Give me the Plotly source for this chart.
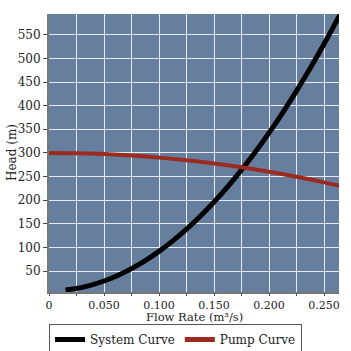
import plotly.graph_objects as go

# Flow rate (m^3/s) and head (m)
sys_q = [0.015, 0.025, 0.0375, 0.05, 0.0625, 0.075, 0.0875, 0.1, 0.1125, 0.125, 0.1375,
         0.15, 0.1625, 0.175, 0.1875, 0.2, 0.2125, 0.225, 0.2375, 0.25, 0.2625, 0.275]
sys_h = [9.9, 13.2, 19.8, 28.9, 40.7, 55.0, 72.0, 91.6, 113.8, 138.6, 166.1,
         196.1, 228.8, 264.0, 301.9, 342.4, 385.5, 431.2, 479.5, 530.5, 584.0, 640.0]

pump_q = [0.0, 0.025, 0.05, 0.075, 0.1, 0.125, 0.15, 0.175, 0.2, 0.225, 0.25, 0.275]
pump_h = [300.0, 299.4, 297.5, 294.4, 290.0, 284.4, 277.6, 269.5, 260.1, 249.5, 237.7, 224.6]

x_ticks = [0, 0.05, 0.1, 0.15, 0.2, 0.25]
x_labels = ["0", "0.050", "0.100", "0.150", "0.200", "0.250"]
y_ticks = [50, 100, 150, 200, 250, 300, 350, 400, 450, 500, 550]

font = "DejaVu Serif"

fig = go.Figure()
fig.add_trace(go.Scatter(x=sys_q, y=sys_h, mode="lines", name="System Curve",
                         line=dict(color="#000000", width=5, shape="spline")))
fig.add_trace(go.Scatter(x=pump_q, y=pump_h, mode="lines", name="Pump Curve",
                         line=dict(color="#9b2a1f", width=4, shape="spline")))

fig.update_layout(
    width=351, height=351,
    margin=dict(l=49, r=12, t=14, b=59, autoexpand=False),
    paper_bgcolor="#ffffff",
    plot_bgcolor="#677f9f",
    font=dict(family=font, size=12, color="#222222"),
    showlegend=True,
    legend=dict(orientation="h", xref="container", yref="container",
                x=0.5, xanchor="center", y=1 - 324 / 351, yanchor="top",
                bordercolor="#555555", borderwidth=1, bgcolor="#ffffff",
                font=dict(family=font, size=12, color="#222222"),
                itemwidth=30, tracegroupgap=0, itemsizing="constant"),
    xaxis=dict(
        range=[0, 0.2636], tickvals=x_ticks, ticktext=x_labels,
        showgrid=True, gridcolor="#e8ecf2", gridwidth=1,
        minor=dict(dtick=0.025, tick0=0, showgrid=True, gridcolor="#e8ecf2",
                   ticks="outside", ticklen=2, tickcolor="#444444"),
        ticks="outside", ticklen=2, tickcolor="#444444",
        showline=True, linecolor="#777777", linewidth=2,
        zeroline=False, automargin=False,
        tickfont=dict(size=11),
    ),
    yaxis=dict(
        range=[5.6, 594], tickvals=y_ticks,
        showgrid=True, gridcolor="#e8ecf2", gridwidth=1,
        ticks="outside", ticklen=4, tickcolor="#444444",
        showline=True, linecolor="#777777", linewidth=2,
        zeroline=False, automargin=False,
        tickfont=dict(size=12),
    ),
    annotations=[
        dict(text="Flow Rate (m³/s)", xref="paper", yref="paper", x=0.5, y=-(317 - 292) / 278,
             xanchor="center", yanchor="middle", showarrow=False, font=dict(size=11.5)),
        dict(text="Head (m)", xref="paper", yref="paper", x=(12 - 49) / 290, y=0.5,
             xanchor="center", yanchor="middle", textangle=-90, showarrow=False,
             font=dict(size=12)),
    ],
)

fig.write_html("out.html")
